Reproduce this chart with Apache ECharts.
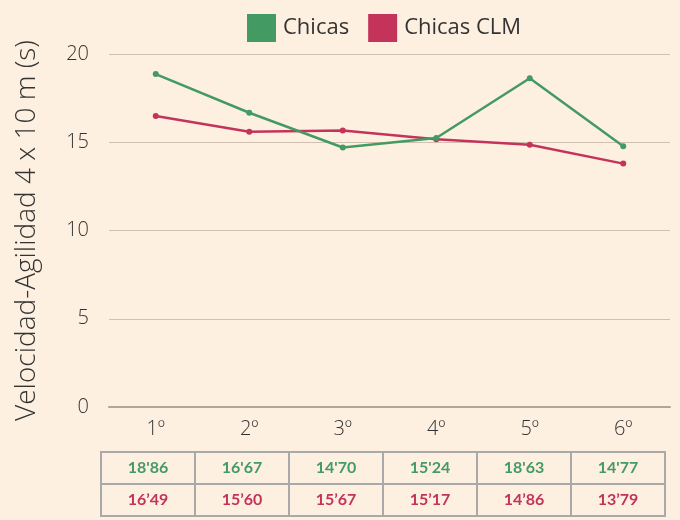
<!DOCTYPE html>
<html><head><meta charset="utf-8">
<script src="https://cdn.jsdelivr.net/npm/echarts@6/dist/echarts.min.js"></script>
<style>html,body{margin:0;padding:0;background:#fdf0e1;}#c{width:680px;height:520px;}</style>
</head><body><div id="c"></div>
<script>
const categories = ['1º','2º','3º','4º','5º','6º'];
const chicas = [18.86, 16.67, 14.70, 15.24, 18.63, 14.77];
const chicasCLM = [16.49, 15.60, 15.67, 15.17, 14.86, 13.79];
const chicasText = ["18'86","16'67","14'70","15'24","18'63","14'77"];
const clmText = ["16’49","15’60","15’67","15’17","14’86","13’79"];
const yTicks = [0,5,10,15,20];
const seriesNames = ['Chicas','Chicas CLM'];
const rowNames = ['Chicas','Chicas CLM'];

const GREEN = '#449a63', RED = '#c4335a';
const rowColors = [GREEN, RED];
const tableData = [];
chicasText.forEach((t,i)=>tableData.push([i,0,t]));
clmText.forEach((t,i)=>tableData.push([i,1,t]));

const chart = echarts.init(document.getElementById('c'));
chart.setOption({
  backgroundColor:'#fdf0e1',
  animation:false,
  legend:{
    left:242, top:9, icon:'rect', itemWidth:29, itemHeight:28, itemGap:19,
    textStyle:{fontFamily:'Open Sans', fontSize:22, color:'#333', padding:[0,0,0,2]},
    data:seriesNames
  },
  grid:[
    {left:109, right:10, top:54, bottom:113},
    {left:101, right:15, top:452, height:64}
  ],
  xAxis:[
    {type:'category', gridIndex:0, data:categories, boundaryGap:true,
     axisLine:{lineStyle:{color:'#b0a596', width:2}}, axisTick:{show:false},
     axisLabel:{fontFamily:'Open Sans', fontWeight:300, fontSize:20, color:'#333', margin:12}},
    {type:'category', gridIndex:1, data:categories, show:false}
  ],
  yAxis:[
    {type:'value', gridIndex:0, min:yTicks[0], max:yTicks[yTicks.length-1], interval:5,
     name:'Velocidad-Agilidad 4 x 10 m (s)', nameLocation:'middle', nameGap:68,
     nameTextStyle:{fontFamily:'Open Sans', fontWeight:300, fontSize:28, color:'#333'},
     axisLine:{show:false}, axisTick:{show:false},
     axisLabel:{fontFamily:'Open Sans', fontWeight:300, fontSize:20, color:'#333', margin:20},
     splitLine:{lineStyle:{color:'#cfc0b2', width:1}}},
    {type:'category', gridIndex:1, data:rowNames, inverse:true, show:false}
  ],
  series:[
    {name:seriesNames[0], type:'line', data:chicas, color:GREEN,
     symbol:'circle', symbolSize:6, lineStyle:{width:2.5}, itemStyle:{color:GREEN}, z:3},
    {name:seriesNames[1], type:'line', data:chicasCLM, color:RED,
     symbol:'circle', symbolSize:6, lineStyle:{width:2.5}, itemStyle:{color:RED}, z:2},
    {type:'custom', xAxisIndex:1, yAxisIndex:1, data:tableData,
     renderItem:function(params, api){
       const c = api.coord([api.value(0), api.value(1)]);
       const s = api.size([1,1]);
       const row = api.value(1);
       return {type:'group', children:[
         {type:'rect', shape:{x:c[0]-s[0]/2, y:c[1]-s[1]/2, width:s[0], height:s[1]},
          style:{fill:'transparent', stroke:'#a9a9a9', lineWidth:2}},
         {type:'text', style:{x:c[0], y:c[1], text:tableData[params.dataIndex][2],
          textAlign:'center', textVerticalAlign:'middle',
          font:'bold 16px Lato, "Open Sans", sans-serif', fill:rowColors[row]}}
       ]};
     }}
  ]
});
</script></body></html>
